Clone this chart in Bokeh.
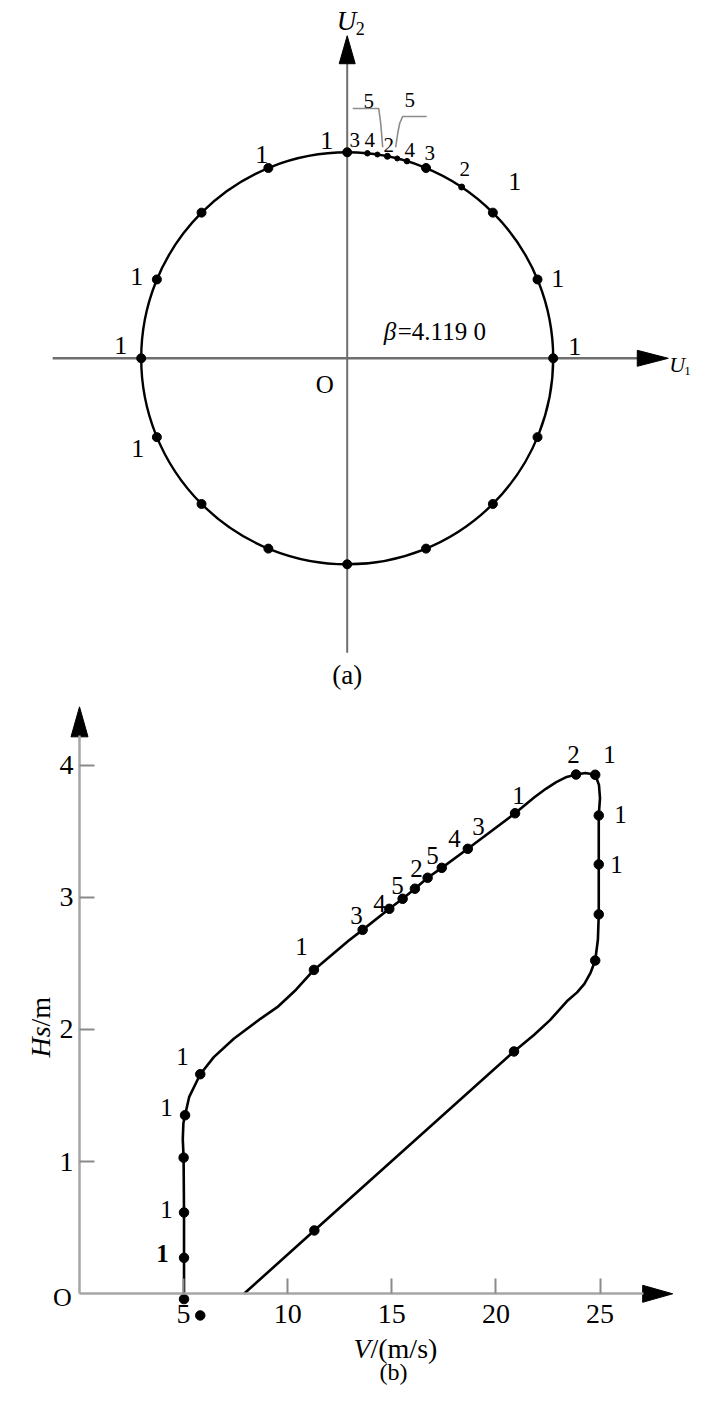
import math
from bokeh.plotting import figure
from bokeh.layouts import column
from bokeh.models import ColumnDataSource, Range1d, LinearAxis, FixedTicker, Label
from bokeh.embed import file_html
from bokeh.resources import INLINE
from bokeh.core.properties import value

FONT = "Liberation Serif"

# ---------------- data: panel (a) ----------------
BETA = 4.1190
POINT_ANGLES = [0.0, 22.5, 45.0, 56.25, 67.5, 73.125, 75.9375, 78.75, 81.5625, 84.375,
                90.0, 112.5, 135.0, 157.5, 180.0, 202.5, 225.0, 247.5, 270.0, 292.5, 315.0, 337.5]
POINT_LEVELS = [1, 1, 1, 2, 1, 3, 4, 2, 4, 3,
                1, 1, 1, 1, 1, 1, 1, 1, 1, 1, 1, 1]
# labels of panel (a): text, U1, U2
LABELS_A_BIG = [("1", -0.41, 4.36), ("1", -1.71, 4.08), ("1", -4.21, 1.64), ("1", -4.53, 0.26),
                ("1", -4.19, -1.80), ("1", 3.35, 3.54), ("1", 4.21, 1.60), ("1", 4.55, 0.24)]
LABELS_A_SMALL = [("3", 0.15, 4.36), ("4", 0.45, 4.36), ("2", 0.83, 4.26), ("4", 1.25, 4.16),
                  ("3", 1.65, 4.10), ("2", 2.35, 3.78), ("5", 0.43, 5.14), ("5", 1.25, 5.16)]
LEADER_1 = ([0.11, 0.63, 0.67, 0.71], [4.996, 4.996, 4.70, 4.22])
LEADER_2 = ([1.59, 1.11, 1.05, 1.01, 0.97], [4.836, 4.836, 4.70, 4.50, 4.22])

# ---------------- data: panel (b) ----------------
V_PATH = [5.02, 5.02, 5.02, 5.00, 4.96, 4.99, 5.07, 5.27, 5.80, 6.45, 7.41, 8.69, 9.50, 10.40,
          11.26, 12.92, 13.60, 14.88, 15.52, 16.11, 16.72, 17.40, 18.65, 20.92, 21.85,
          22.40, 22.90, 23.40, 23.85, 24.30, 24.77, 24.95, 25.00, 24.94, 24.94, 24.94, 24.90,
          24.77, 24.55, 24.25, 23.90, 23.45, 22.60, 21.84, 20.87, 11.28, 7.90]
HS_PATH = [-0.04, 0.27, 0.615, 1.03, 1.17, 1.29, 1.351, 1.49, 1.661, 1.79, 1.929, 2.08, 2.168, 2.30,
           2.45, 2.67, 2.753, 2.912, 2.988, 3.064, 3.147, 3.222, 3.366, 3.635, 3.756,
           3.82, 3.87, 3.91, 3.928, 3.94, 3.926, 3.85, 3.75, 3.618, 3.248, 2.870, 2.68,
           2.521, 2.43, 2.345, 2.28, 2.219, 2.07, 1.96, 1.833, 0.479, 0.0]
V_PTS = [5.02, 5.80, 5.02, 5.02, 5.00, 5.07, 5.80, 11.26, 13.60, 14.88, 15.52, 16.11, 16.72,
         17.40, 18.65, 20.92, 23.85, 24.77, 24.94, 24.94, 24.94, 24.77, 20.87, 11.28]
HS_PTS = [-0.04, -0.164, 0.272, 0.615, 1.03, 1.351, 1.661, 2.45, 2.753, 2.912, 2.988, 3.064, 3.147,
          3.222, 3.366, 3.635, 3.928, 3.926, 3.618, 3.248, 2.870, 2.521, 1.833, 0.479]
X_TICKS = [5, 10, 15, 20, 25]
Y_TICKS = [1, 2, 3, 4]
LABELS_B = [("1", 4.95, 1.795), ("1", 4.18, 1.409), ("1", 4.18, 0.637), ("1", 10.66, 2.627),
            ("3", 13.30, 2.862), ("4", 14.41, 2.952), ("5", 15.27, 3.089), ("2", 16.19, 3.217),
            ("5", 16.96, 3.316), ("4", 18.01, 3.444), ("3", 19.16, 3.535), ("1", 21.09, 3.770),
            ("2", 23.73, 4.080), ("1", 25.46, 4.080), ("1", 25.98, 3.626), ("1", 25.79, 3.248)]
LABELS_B_BOLD = [("1", 3.99, 0.305)]


def text_src(items):
    return ColumnDataSource(dict(x=[t[1] for t in items], y=[t[2] for t in items],
                                 text=[t[0] for t in items]))


def head(p, tip_x, tip_y, direction, sx, sy, length=30, half=8.5):
    if direction == "right":
        xs = [tip_x, tip_x - length / sx, tip_x - length / sx]
        ys = [tip_y, tip_y + half / sy, tip_y - half / sy]
    else:
        xs = [tip_x, tip_x - half / sx, tip_x + half / sx]
        ys = [tip_y, tip_y - length / sy, tip_y - length / sy]
    p.patch(xs, ys, fill_color="black", line_color="black", line_width=1)


def label(p, x, y, text, size, italic=False, align="center", **kw):
    p.add_layout(Label(x=x, y=y, text=text, text_font=FONT, text_font_size=size,
                       text_font_style="italic" if italic else "normal", text_color="black",
                       text_align=align, text_baseline="middle", **kw))


# ================= panel (a) =================
WA, HA = 693, 698
SA = 206.0 / BETA
CXA, CYA = 346.7, 357.8
pa = figure(width=WA, height=HA, output_backend="svg", toolbar_location=None,
            x_range=Range1d(-CXA / SA, (WA - CXA) / SA), y_range=Range1d(-(HA - CYA) / SA, CYA / SA),
            x_axis_type=None, y_axis_type=None, min_border=0, outline_line_color=None)

AX_END = 5.89
AX_TIP_X = 6.42
AX_TIP_Y = 6.45
axis_grey = "#6e6e6e"
pa.line([-AX_END, AX_TIP_X - 30 / SA], [0, 0], line_color=axis_grey, line_width=2.4)
pa.line([0, 0], [-AX_END, AX_TIP_Y - 27 / SA], line_color=axis_grey, line_width=2.0)
head(pa, AX_TIP_X, 0, "right", SA, SA, length=31, half=8)
head(pa, 0, AX_TIP_Y, "up", SA, SA, length=28, half=8)

pa.circle(x=[0], y=[0], radius=BETA, fill_color=None, line_color="black", line_width=2.4)
size_map = {1: 9, 2: 6, 3: 5.5, 4: 5}
src_pts_a = ColumnDataSource(dict(
    x=[BETA * math.cos(math.radians(a)) for a in POINT_ANGLES],
    y=[BETA * math.sin(math.radians(a)) for a in POINT_ANGLES],
    s=[size_map[l] for l in POINT_LEVELS]))
pa.scatter("x", "y", size="s", source=src_pts_a, fill_color="black", line_color="black")

pa.line(LEADER_1[0], LEADER_1[1], line_color="#8c8c8c", line_width=1.6)
pa.line(LEADER_2[0], LEADER_2[1], line_color="#8c8c8c", line_width=1.6)

pa.text("x", "y", "text", source=text_src(LABELS_A_BIG), text_font=value(FONT), text_font_size="26px",
        text_align="center", text_baseline="middle", text_color="black")
pa.text("x", "y", "text", source=text_src(LABELS_A_SMALL), text_font=value(FONT), text_font_size="21px",
        text_align="center", text_baseline="middle", text_color="black")

label(pa, -0.45, -0.52, "O", "25px")
label(pa, 0.73, 0.54, "β", "25px", italic=True, align="left")
label(pa, 0.73, 0.54, "=4.119 0", "25px", align="left", x_offset=14)
label(pa, 0.0, -6.34, "(a)", "27px")
# axis titles U2 / U1
label(pa, -0.21, 6.74, "U", "27px", italic=True, align="left")
label(pa, -0.21, 6.60, "2", "18px", align="left", x_offset=19)
label(pa, 6.44, -0.12, "U", "22px", italic=True, align="left")
label(pa, 6.44, -0.25, "1", "13px", align="left", x_offset=15)

# ================= panel (b) =================
WB, HB = 693, 691
SBX, SBY = 20.82, 132.2
OXB, OYB = 79.0, 595.3
pb = figure(width=WB, height=HB, output_backend="svg", toolbar_location=None,
            x_range=Range1d(-OXB / SBX, (WB - OXB) / SBX), y_range=Range1d(-(HB - OYB) / SBY, OYB / SBY),
            x_axis_type=None, y_axis_type=None, min_border=0, outline_line_color=None)

X_TIP, Y_TIP = 28.49, 4.44
ax_col = "#a6a6a6"
tick_col = "#8a8a8a"
xax = LinearAxis(fixed_location=0, ticker=FixedTicker(ticks=X_TICKS), bounds=(0, X_TIP - 29 / SBX))
yax = LinearAxis(fixed_location=0, ticker=FixedTicker(ticks=Y_TICKS), bounds=(0, Y_TIP - 29 / SBY))
for ax in (xax, yax):
    ax.axis_line_color = ax_col
    ax.axis_line_width = 2.5
    ax.major_tick_in = 15
    ax.major_tick_out = 0
    ax.major_tick_line_color = tick_col
    ax.major_tick_line_width = 2
    ax.minor_tick_line_color = None
    ax.major_label_text_font = FONT
    ax.major_label_text_font_size = "28px"
    ax.major_label_text_color = "black"
xax.major_label_standoff = 11
yax.major_label_standoff = 6
pb.add_layout(xax, "below")
pb.add_layout(yax, "left")
head(pb, X_TIP, 0, "right", SBX, SBY, length=30, half=8.5)
head(pb, 0, Y_TIP, "up", SBX, SBY, length=30, half=8.5)

pb.line(V_PATH, HS_PATH, line_color="black", line_width=2.6, line_join="round")
pb.scatter(V_PTS, HS_PTS, size=9.5, fill_color="black", line_color="black")

pb.text("x", "y", "text", source=text_src(LABELS_B), text_font=value(FONT), text_font_size="25px",
        text_align="center", text_baseline="middle", text_color="black")
pb.text("x", "y", "text", source=text_src(LABELS_B_BOLD), text_font=value(FONT), text_font_size="25px",
        text_font_style="bold", text_align="center", text_baseline="middle", text_color="black")

label(pb, -0.82, -0.028, "O", "26px")
label(pb, -1.87, 1.787, "Hs", "28px", italic=True, align="left", angle=math.pi / 2)
label(pb, -1.87, 1.787, "/m", "28px", align="left", angle=math.pi / 2, y_offset=31)
label(pb, 13.16, -0.41, "V", "28px", italic=True, align="left")
label(pb, 13.16, -0.41, "/(m/s)", "28px", align="left", x_offset=17)
label(pb, 15.08, -0.592, "(b)", "24px")

layout = column(pa, pb)
open("out.html", "w").write(file_html(layout, INLINE))
